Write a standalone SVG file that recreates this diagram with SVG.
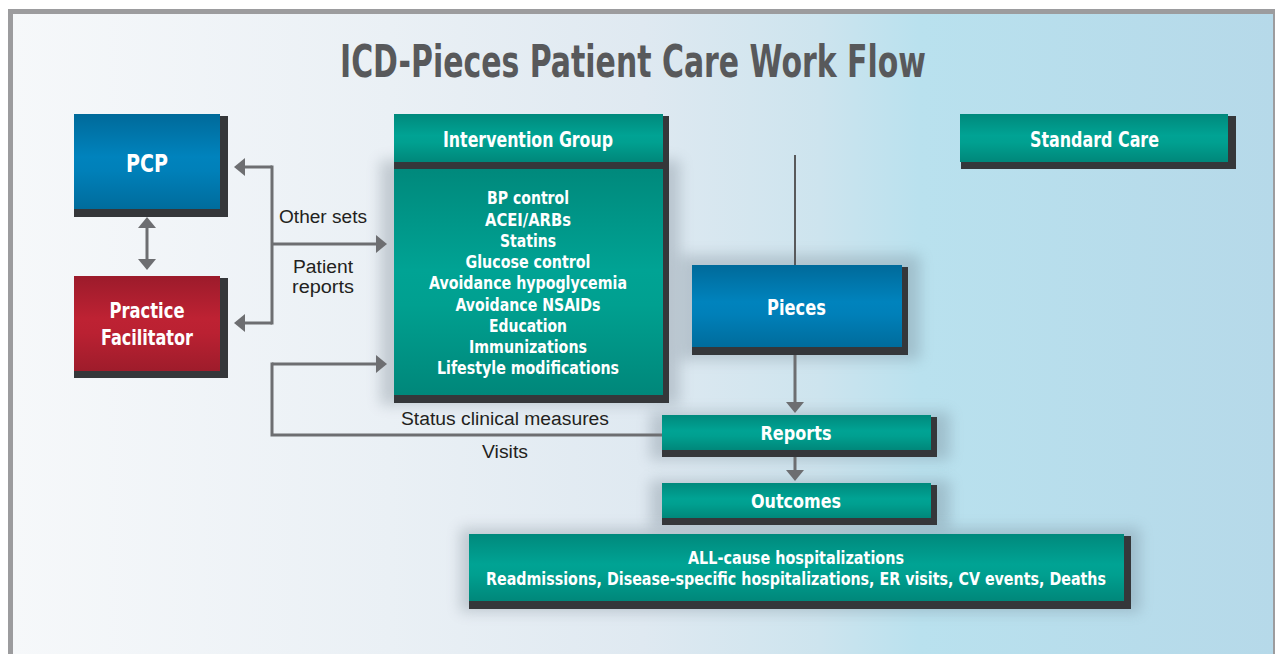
<svg xmlns="http://www.w3.org/2000/svg" width="1275" height="654" viewBox="0 0 1275 654">
<defs>
<linearGradient id="bg" x1="0" y1="0" x2="1" y2="0">
<stop offset="0" stop-color="#f6f8fa"/>
<stop offset="0.3" stop-color="#eaf0f5"/>
<stop offset="0.5" stop-color="#dfe9f1"/>
<stop offset="0.64" stop-color="#cde4ee"/>
<stop offset="0.72" stop-color="#b9e1ee"/>
<stop offset="1" stop-color="#b6d9e9"/>
</linearGradient>
<linearGradient id="teal" x1="0" y1="0" x2="0" y2="1">
<stop offset="0" stop-color="#00897c"/>
<stop offset="0.45" stop-color="#00a394"/>
<stop offset="0.6" stop-color="#00a090"/>
<stop offset="1" stop-color="#00877a"/>
</linearGradient>
<linearGradient id="blue" x1="0" y1="0" x2="0" y2="1">
<stop offset="0" stop-color="#006a9a"/>
<stop offset="0.45" stop-color="#0083bd"/>
<stop offset="0.6" stop-color="#0080b9"/>
<stop offset="1" stop-color="#006c9c"/>
</linearGradient>
<linearGradient id="red" x1="0" y1="0" x2="0" y2="1">
<stop offset="0" stop-color="#9c1b2b"/>
<stop offset="0.45" stop-color="#be2233"/>
<stop offset="0.6" stop-color="#ba2132"/>
<stop offset="1" stop-color="#9e1c2b"/>
</linearGradient>
<filter id="soft" x="-20%" y="-40%" width="140%" height="180%">
<feGaussianBlur stdDeviation="7"/>
</filter>
<marker id="ah" markerUnits="userSpaceOnUse" markerWidth="12" markerHeight="20" refX="0" refY="9" orient="auto-start-reverse" viewBox="0 0 12 18">
<path d="M0,0 L11,9 L0,18 z" fill="#6d6e71"/>
</marker>
<style>
.sh { fill: #35373a; }
.glow { fill: #5d6a77; opacity: 0.28; filter: url(#soft); }
.lbl { font-family: 'Liberation Sans Narrow','DejaVu Sans Condensed','Liberation Sans',sans-serif; font-weight: bold; fill: #ffffff; text-anchor: middle; }
.note { font-family: 'Liberation Sans', Arial, sans-serif; font-size: 18px; fill: #231f20; text-anchor: middle; }
.con { fill: none; stroke: #6d6e71; stroke-width: 3; }
</style>
</defs>

<rect x="10.5" y="11.5" width="1265" height="700" fill="url(#bg)" stroke="#9c9c9e" stroke-width="5"/>

<text x="633" y="77" font-family="'Liberation Sans Narrow','DejaVu Sans Condensed','Liberation Sans',sans-serif" font-weight="bold" font-size="45" fill="#58595b" text-anchor="middle" textLength="586" lengthAdjust="spacingAndGlyphs">ICD-Pieces Patient Care Work Flow</text>

<!-- soft background shadows -->
<rect class="glow" x="380" y="160" width="300" height="245"/>
<rect class="glow" x="680" y="255" width="240" height="105"/>
<rect class="glow" x="650" y="412" width="300" height="48"/>
<rect class="glow" x="650" y="480" width="300" height="48"/>
<rect class="glow" x="460" y="528" width="680" height="84"/>

<g id="connectors">
<path class="con" d="M272,167 L245,167" marker-end="url(#ah)"/>
<path class="con" d="M272,323 L245,323" marker-end="url(#ah)"/>
<path class="con" d="M272,165.5 L272,324.5"/>
<path class="con" d="M272,244 L376,244" marker-end="url(#ah)"/>
<path class="con" d="M272,364 L376,364" marker-end="url(#ah)"/>
<path class="con" d="M272,362.5 L272,435 L662,435"/>
<path class="con" d="M147,228 L147,259" marker-start="url(#ah)" marker-end="url(#ah)"/>
<path d="M795,155 L795,265" fill="none" stroke="#58595b" stroke-width="2"/>
<path class="con" d="M795,355 L795,402" marker-end="url(#ah)"/>
<path class="con" d="M795,457 L795,470" marker-end="url(#ah)"/>
</g>

<g id="pcp">
<rect class="sh" x="74" y="116" width="154" height="101"/>
<rect x="74" y="114" width="146" height="95" fill="url(#blue)"/>
<text class="lbl" x="147" y="172" font-size="25" textLength="42" lengthAdjust="spacingAndGlyphs">PCP</text>
</g>

<g id="practice-facilitator">
<rect class="sh" x="74" y="278" width="154" height="100"/>
<rect x="74" y="276" width="146" height="95" fill="url(#red)"/>
<text class="lbl" x="147" y="318" font-size="21" textLength="75" lengthAdjust="spacingAndGlyphs">Practice</text>
<text class="lbl" x="147" y="345" font-size="21" textLength="92" lengthAdjust="spacingAndGlyphs">Facilitator</text>
</g>

<g id="intervention-group">
<rect class="sh" x="394" y="116" width="275" height="287"/>
<rect x="394" y="114" width="269" height="48" fill="url(#teal)"/>
<rect x="394" y="169" width="269" height="226" fill="url(#teal)"/>
<text class="lbl" x="528" y="147" font-size="21" textLength="170" lengthAdjust="spacingAndGlyphs">Intervention Group</text>
<text class="lbl" x="528" y="204" font-size="18" textLength="82" lengthAdjust="spacingAndGlyphs">BP control</text>
<text class="lbl" x="528" y="226" font-size="18" textLength="86" lengthAdjust="spacingAndGlyphs">ACEI/ARBs</text>
<text class="lbl" x="528" y="247" font-size="18" textLength="56" lengthAdjust="spacingAndGlyphs">Statins</text>
<text class="lbl" x="528" y="268" font-size="18" textLength="125" lengthAdjust="spacingAndGlyphs">Glucose control</text>
<text class="lbl" x="528" y="289" font-size="18" textLength="198" lengthAdjust="spacingAndGlyphs">Avoidance hypoglycemia</text>
<text class="lbl" x="528" y="311" font-size="18" textLength="145" lengthAdjust="spacingAndGlyphs">Avoidance NSAIDs</text>
<text class="lbl" x="528" y="332" font-size="18" textLength="78" lengthAdjust="spacingAndGlyphs">Education</text>
<text class="lbl" x="528" y="353" font-size="18" textLength="118" lengthAdjust="spacingAndGlyphs">Immunizations</text>
<text class="lbl" x="528" y="374" font-size="18" textLength="182" lengthAdjust="spacingAndGlyphs">Lifestyle modifications</text>
</g>

<g id="standard-care">
<rect class="sh" x="961" y="116" width="275" height="53"/>
<rect x="960" y="114" width="268" height="48" fill="url(#teal)"/>
<text class="lbl" x="1094.5" y="147" font-size="21" textLength="129" lengthAdjust="spacingAndGlyphs">Standard Care</text>
</g>

<g id="pieces">
<rect class="sh" x="692" y="267" width="216" height="88"/>
<rect x="692" y="265" width="210" height="82" fill="url(#blue)"/>
<text class="lbl" x="796.5" y="315" font-size="21" textLength="59" lengthAdjust="spacingAndGlyphs">Pieces</text>
</g>

<g id="reports">
<rect class="sh" x="662" y="417" width="275" height="40"/>
<rect x="662" y="415" width="269" height="35" fill="url(#teal)"/>
<text class="lbl" x="796" y="440" font-size="20" textLength="71" lengthAdjust="spacingAndGlyphs">Reports</text>
</g>

<g id="outcomes">
<rect class="sh" x="662" y="485" width="275" height="40"/>
<rect x="662" y="483" width="269" height="35" fill="url(#teal)"/>
<text class="lbl" x="796" y="508" font-size="20" textLength="90" lengthAdjust="spacingAndGlyphs">Outcomes</text>
</g>

<g id="outcome-measures">
<rect class="sh" x="469" y="536" width="662" height="73"/>
<rect x="469" y="534" width="655" height="67" fill="url(#teal)"/>
<text class="lbl" x="796" y="564" font-size="18" textLength="216" lengthAdjust="spacingAndGlyphs">ALL-cause hospitalizations</text>
<text class="lbl" x="796" y="585" font-size="18" textLength="620" lengthAdjust="spacingAndGlyphs">Readmissions, Disease-specific hospitalizations, ER visits, CV events, Deaths</text>
</g>

<g id="labels">
<text class="note" x="323" y="223" textLength="88" lengthAdjust="spacingAndGlyphs">Other sets</text>
<text class="note" x="323" y="273" textLength="60" lengthAdjust="spacingAndGlyphs">Patient</text>
<text class="note" x="323" y="293" textLength="62" lengthAdjust="spacingAndGlyphs">reports</text>
<text class="note" x="505" y="425" textLength="208" lengthAdjust="spacingAndGlyphs">Status clinical measures</text>
<text class="note" x="505" y="458" textLength="46" lengthAdjust="spacingAndGlyphs">Visits</text>
</g>
</svg>
